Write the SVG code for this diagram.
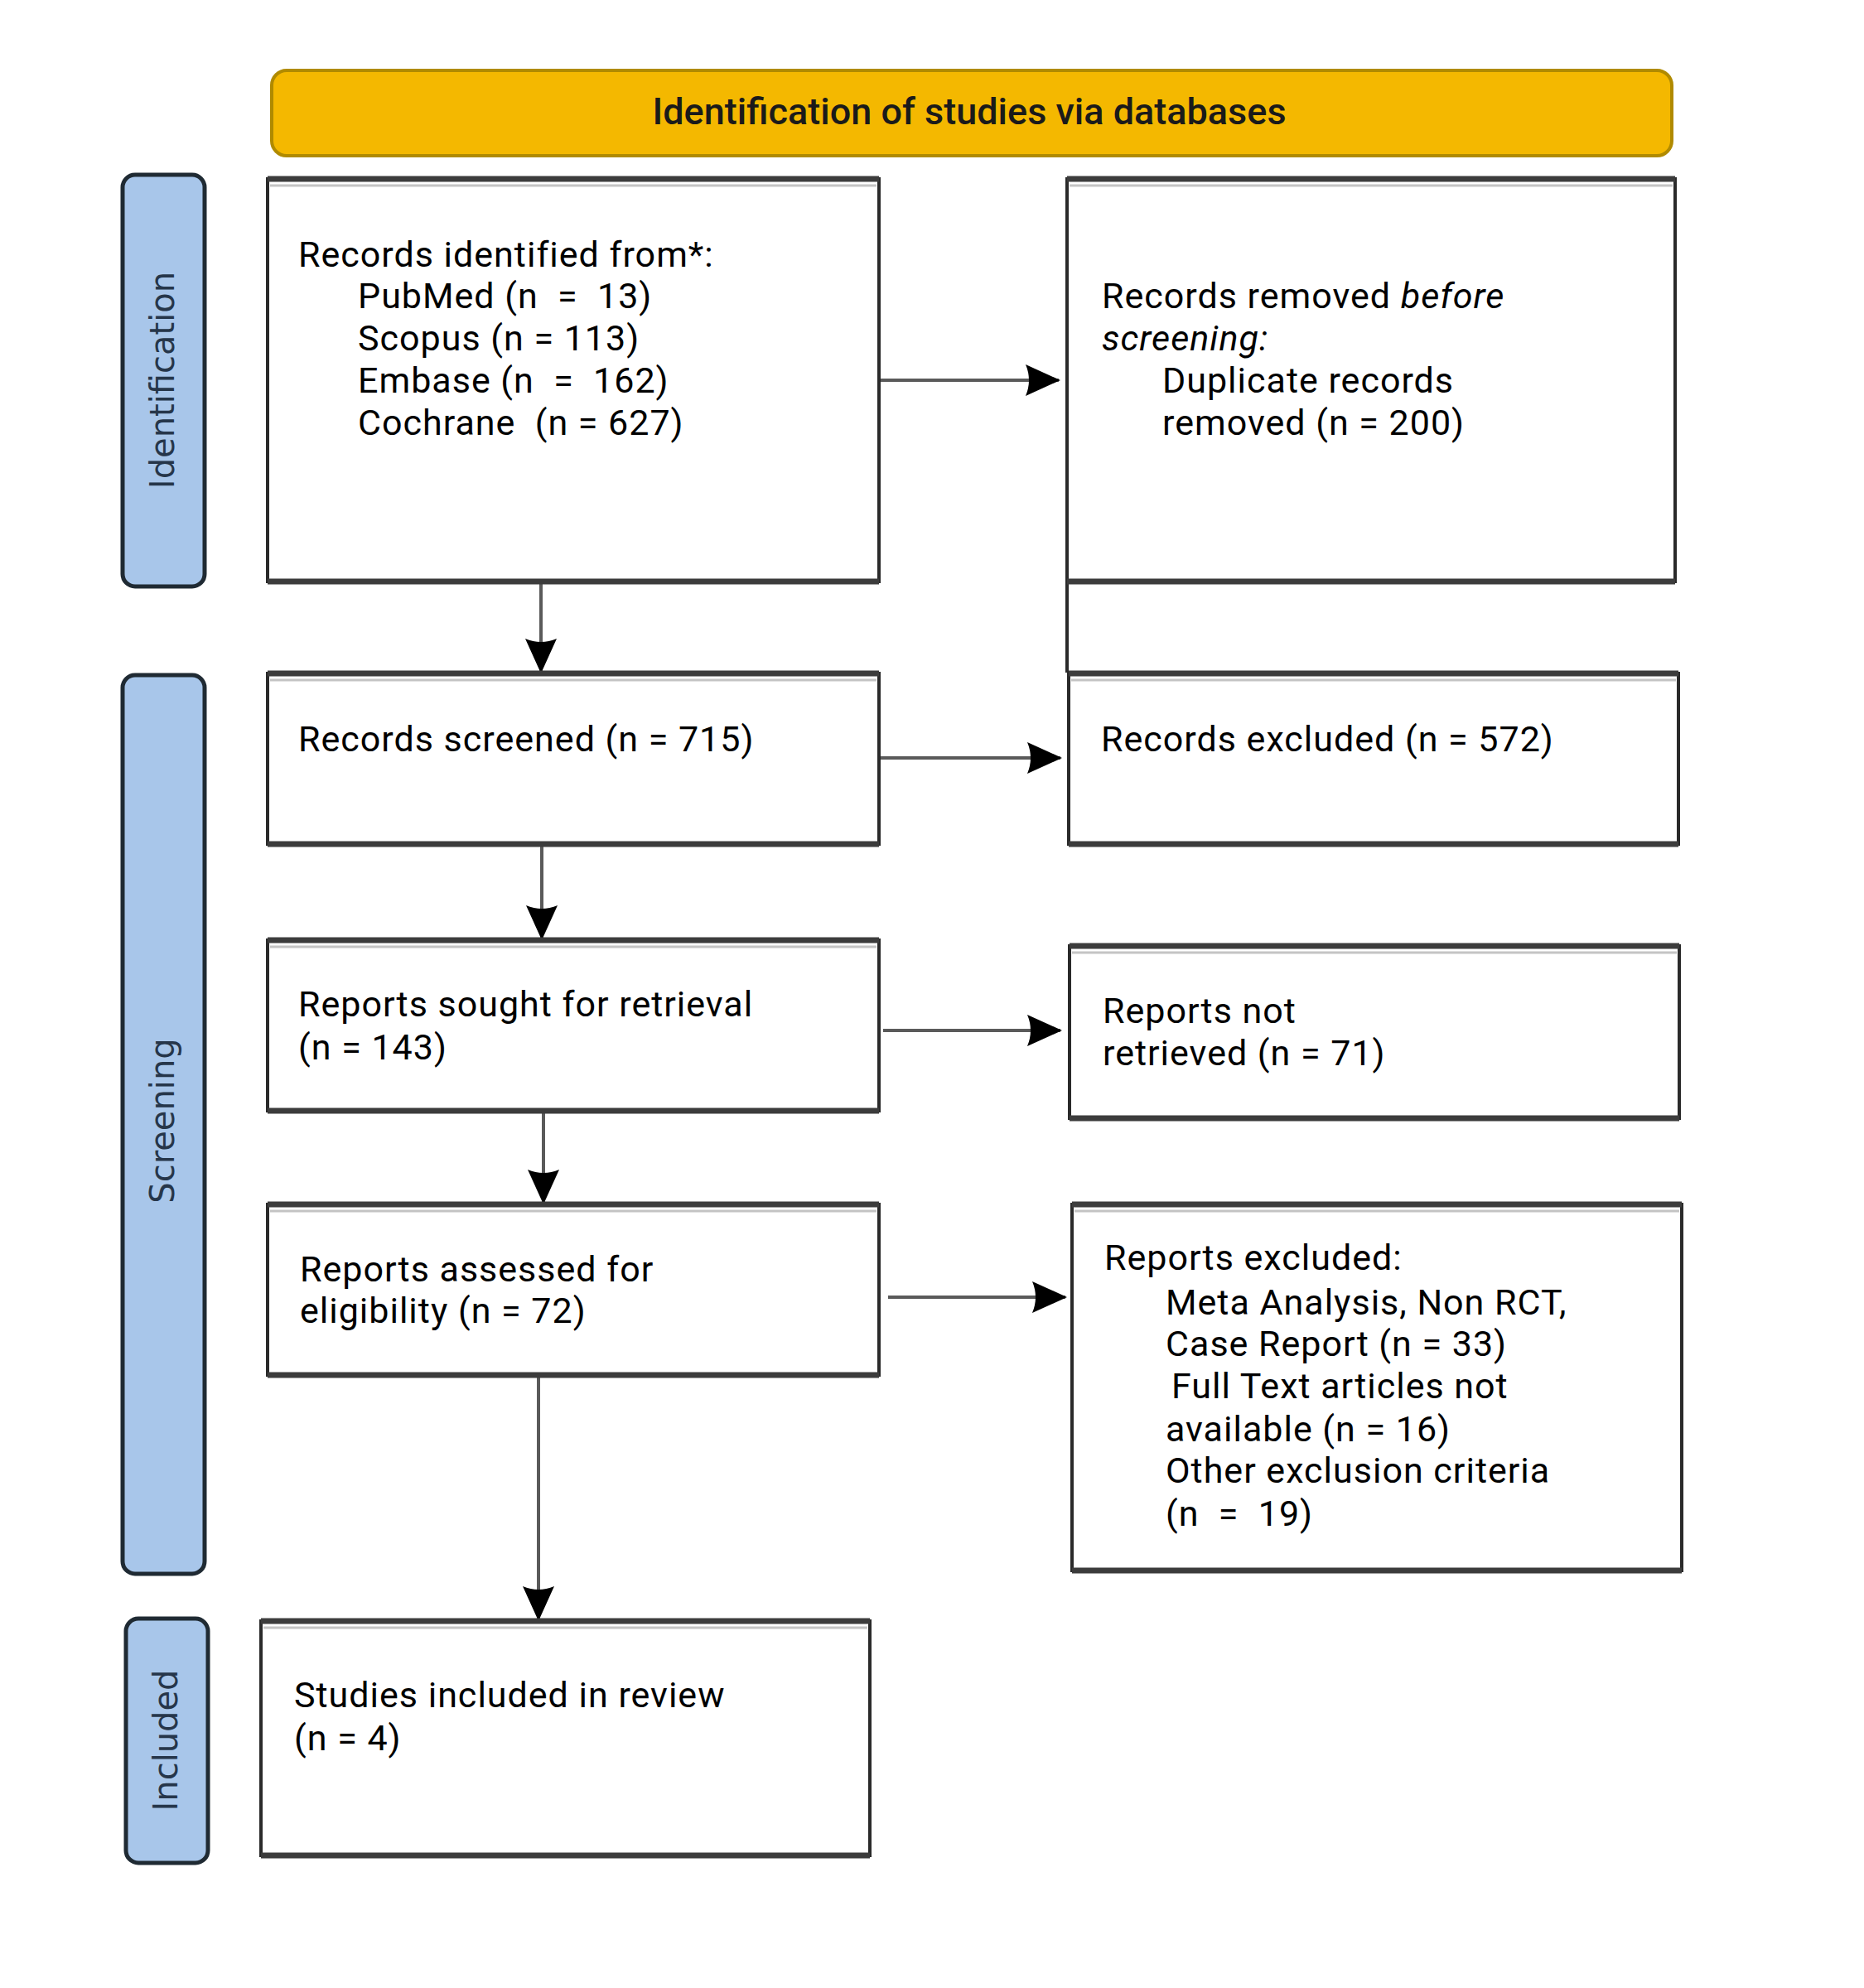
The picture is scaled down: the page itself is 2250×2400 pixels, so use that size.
<svg xmlns="http://www.w3.org/2000/svg" width="2250" height="2400" viewBox="0 0 2250 2400">
<defs>
<style>
.box{fill:#fff;stroke:#2a2a2a;stroke-width:4}
.edge{stroke:#3c3c3c;stroke-width:7}
.hl{stroke:#c4c4c4;stroke-width:3}
.side{fill:#a8c6ea;stroke:#1f2a33;stroke-width:5}
.t{font-family:Roboto,"Liberation Sans",sans-serif;font-size:43px;fill:#000;letter-spacing:1px;white-space:pre}
.st{font-family:"DejaVu Sans",Verdana,sans-serif;font-size:40px;fill:#26364a;text-anchor:middle}
.ln{stroke:#5a5a5a;stroke-width:4;fill:none}
</style>
<marker id="ah" viewBox="0 0 44 38" refX="42" refY="19" markerWidth="44" markerHeight="38" markerUnits="userSpaceOnUse" orient="auto">
<path d="M2,0 L44,19 L2,38 Q10,19 2,0 Z" fill="#000"/>
</marker>
</defs>
<rect width="2250" height="2400" fill="#fff"/>

<g id="header">
<rect x="328" y="85" width="1690" height="103" rx="18" fill="#f4b800" stroke="#b08a00" stroke-width="4"/>
<text x="1170" y="150" text-anchor="middle" style="font-family:Roboto,'Liberation Sans',sans-serif;font-size:45px;font-weight:500;fill:#1a1a1a">Identification of studies via databases</text>
</g>

<g id="lane-identification">
<rect x="148" y="211" width="99" height="497" rx="15" class="side"/>
<text class="st" transform="translate(210,459) rotate(-90)">Identification</text>
</g>
<g id="lane-screening">
<rect x="148" y="815" width="99" height="1085" rx="15" class="side"/>
<text class="st" transform="translate(210,1353) rotate(-90)">Screening</text>
</g>
<g id="lane-included">
<rect x="152" y="1954" width="99" height="295" rx="15" class="side"/>
<text class="st" transform="translate(214,2101) rotate(-90)">Included</text>
</g>

<g id="connectors">
<line x1="1062" y1="459" x2="1278" y2="459" class="ln" marker-end="url(#ah)"/>
<line x1="653" y1="704" x2="653" y2="811" class="ln" marker-end="url(#ah)"/>
<line x1="1288" y1="702" x2="1288" y2="812" stroke="#2a2a2a" stroke-width="4"/>
<line x1="1062" y1="915" x2="1280" y2="915" class="ln" marker-end="url(#ah)"/>
<line x1="654" y1="1020" x2="654" y2="1133" class="ln" marker-end="url(#ah)"/>
<line x1="1066" y1="1244" x2="1280" y2="1244" class="ln" marker-end="url(#ah)"/>
<line x1="656" y1="1343" x2="656" y2="1452" class="ln" marker-end="url(#ah)"/>
<line x1="1072" y1="1566" x2="1286" y2="1566" class="ln" marker-end="url(#ah)"/>
<line x1="650" y1="1661" x2="650" y2="1955" class="ln" marker-end="url(#ah)"/>
</g>

<g id="n1">
<rect x="323" y="216" width="738" height="486" class="box"/>
<line x1="323" y1="216" x2="1061" y2="216" class="edge"/><line x1="326" y1="224" x2="1058" y2="224" class="hl"/>
<line x1="323" y1="702" x2="1061" y2="702" class="edge"/>
<text class="t" x="360" y="322">Records identified from*:</text>
<text class="t" x="432" y="372" xml:space="preserve">PubMed (n  =  13)</text>
<text class="t" x="432" y="423">Scopus (n = 113)</text>
<text class="t" x="432" y="474" xml:space="preserve">Embase (n  =  162)</text>
<text class="t" x="432" y="525" xml:space="preserve">Cochrane  (n = 627)</text>
</g>

<g id="n2">
<rect x="1288" y="216" width="734" height="486" class="box"/>
<line x1="1288" y1="216" x2="2022" y2="216" class="edge"/><line x1="1291" y1="224" x2="2019" y2="224" class="hl"/>
<line x1="1288" y1="702" x2="2022" y2="702" class="edge"/>
<text class="t" x="1330" y="372" xml:space="preserve">Records removed <tspan font-style="italic">before</tspan></text>
<text class="t" x="1330" y="423" font-style="italic">screening:</text>
<text class="t" x="1403" y="474">Duplicate records</text>
<text class="t" x="1403" y="525">removed (n = 200)</text>
</g>

<g id="n3">
<rect x="323" y="813" width="738" height="206" class="box"/>
<line x1="323" y1="813" x2="1061" y2="813" class="edge"/><line x1="326" y1="821" x2="1058" y2="821" class="hl"/>
<line x1="323" y1="1019" x2="1061" y2="1019" class="edge"/>
<text class="t" x="360" y="907">Records screened (n = 715)</text>
</g>

<g id="n4">
<rect x="1290" y="813" width="736" height="206" class="box"/>
<line x1="1290" y1="813" x2="2026" y2="813" class="edge"/><line x1="1293" y1="821" x2="2023" y2="821" class="hl"/>
<line x1="1290" y1="1019" x2="2026" y2="1019" class="edge"/>
<text class="t" x="1329" y="907">Records excluded (n = 572)</text>
</g>

<g id="n5">
<rect x="323" y="1135" width="738" height="206" class="box"/>
<line x1="323" y1="1135" x2="1061" y2="1135" class="edge"/><line x1="326" y1="1143" x2="1058" y2="1143" class="hl"/>
<line x1="323" y1="1341" x2="1061" y2="1341" class="edge"/>
<text class="t" x="360" y="1227">Reports sought for retrieval</text>
<text class="t" x="360" y="1279">(n = 143)</text>
</g>

<g id="n6">
<rect x="1291" y="1142" width="736" height="208" class="box"/>
<line x1="1291" y1="1142" x2="2027" y2="1142" class="edge"/><line x1="1294" y1="1150" x2="2024" y2="1150" class="hl"/>
<line x1="1291" y1="1350" x2="2027" y2="1350" class="edge"/>
<text class="t" x="1331" y="1235">Reports not</text>
<text class="t" x="1331" y="1286">retrieved (n = 71)</text>
</g>

<g id="n7">
<rect x="323" y="1454" width="738" height="206" class="box"/>
<line x1="323" y1="1454" x2="1061" y2="1454" class="edge"/><line x1="326" y1="1462" x2="1058" y2="1462" class="hl"/>
<line x1="323" y1="1660" x2="1061" y2="1660" class="edge"/>
<text class="t" x="362" y="1547">Reports assessed for</text>
<text class="t" x="362" y="1597">eligibility (n = 72)</text>
</g>

<g id="n8">
<rect x="1294" y="1454" width="736" height="442" class="box"/>
<line x1="1294" y1="1454" x2="2030" y2="1454" class="edge"/><line x1="1297" y1="1462" x2="2027" y2="1462" class="hl"/>
<line x1="1294" y1="1896" x2="2030" y2="1896" class="edge"/>
<text class="t" x="1333" y="1533">Reports excluded:</text>
<text class="t" x="1407" y="1587">Meta Analysis, Non RCT,</text>
<text class="t" x="1407" y="1637">Case Report (n = 33)</text>
<text class="t" x="1414" y="1688">Full Text articles not</text>
<text class="t" x="1407" y="1740">available (n = 16)</text>
<text class="t" x="1407" y="1790">Other exclusion criteria</text>
<text class="t" x="1407" y="1842" xml:space="preserve">(n  =  19)</text>
</g>

<g id="n9">
<rect x="315" y="1957" width="735" height="283" class="box"/>
<line x1="315" y1="1957" x2="1050" y2="1957" class="edge"/><line x1="318" y1="1965" x2="1047" y2="1965" class="hl"/>
<line x1="315" y1="2240" x2="1050" y2="2240" class="edge"/>
<text class="t" x="355" y="2061">Studies included in review</text>
<text class="t" x="355" y="2113">(n = 4)</text>
</g>
</svg>
